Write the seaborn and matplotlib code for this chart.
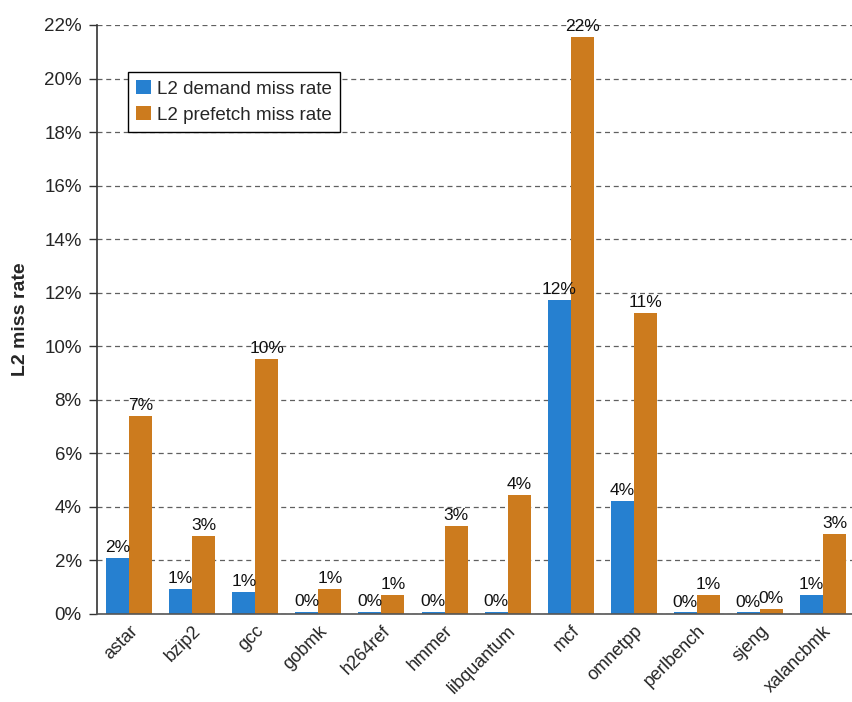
import matplotlib
matplotlib.use("Agg")
import matplotlib.pyplot as plt
import seaborn as sns
import pandas as pd
from matplotlib.ticker import FuncFormatter

benchmarks = ["astar", "bzip2", "gcc", "gobmk", "h264ref", "hmmer", "libquantum",
              "mcf", "omnetpp", "perlbench", "sjeng", "xalancbmk"]
demand_miss = [2.09, 0.93, 0.82, 0.08, 0.08, 0.08, 0.08, 11.73, 4.22, 0.06, 0.06, 0.71]
prefetch_miss = [7.40, 2.91, 9.52, 0.93, 0.71, 3.29, 4.45, 21.55, 11.24, 0.71, 0.19, 2.99]
series_names = ["L2 demand miss rate", "L2 prefetch miss rate"]
y_ticks = list(range(0, 23, 2))

df = pd.DataFrame({
    "benchmark": benchmarks * 2,
    "rate": demand_miss + prefetch_miss,
    "metric": [series_names[0]] * len(benchmarks) + [series_names[1]] * len(benchmarks),
})

sns.set_style("white")
plt.rcParams["font.family"] = ["Liberation Sans", "DejaVu Sans"]

fig = plt.figure(figsize=(8.52, 7.02), dpi=100)
ax = fig.add_axes([97 / 852, 1 - 614 / 702, (852 - 97) / 852, (614 - 25) / 702])

sns.barplot(data=df, x="benchmark", y="rate", hue="metric",
            palette=["#2680D0", "#CC7B1E"], saturation=1, width=0.73,
            linewidth=0, edgecolor="none", ax=ax, legend=True)

for cont in ax.containers:
    ax.bar_label(cont, labels=[f"{v:.0f}%" for v in cont.datavalues],
                 padding=2, fontsize=12.5, color="#111111")

ax.set_ylim(0, 22)
ax.set_xlim(-0.51, 11.46)
ax.set_yticks(y_ticks)
ax.yaxis.set_major_formatter(FuncFormatter(lambda v, p: f"{v:.0f}%"))
ax.tick_params(axis="y", labelsize=13.5, length=6, width=1, direction="out", left=True,
               color="#333333", pad=5)
ax.tick_params(axis="x", labelsize=13, length=0, pad=6)
for lbl in ax.get_xticklabels():
    lbl.set_rotation(45)
    lbl.set_ha("right")
    lbl.set_rotation_mode("anchor")

ax.yaxis.grid(True, linestyle=(0, (4, 3)), color="#606060", linewidth=0.9)
ax.set_axisbelow(True)
for s in ["top", "right"]:
    ax.spines[s].set_visible(False)
ax.spines["left"].set_color("#333333")
ax.spines["bottom"].set_color("#555555")
ax.spines["left"].set_linewidth(1.2)
ax.spines["bottom"].set_linewidth(1.2)

ax.set_xlabel("")
ax.set_ylabel("L2 miss rate", fontsize=14, fontweight="bold", labelpad=11)

leg = ax.legend(loc="upper left", bbox_to_anchor=((128 - 97) / 755, (614 - 72) / 589),
                borderaxespad=0, fontsize=13.5, frameon=True, fancybox=False,
                edgecolor="black", handlelength=0.75, handleheight=0.75,
                handletextpad=0.35, borderpad=0.45, labelspacing=0.45, framealpha=1)
leg.get_frame().set_linewidth(1.0)

fig.savefig("out.png", dpi=100)
